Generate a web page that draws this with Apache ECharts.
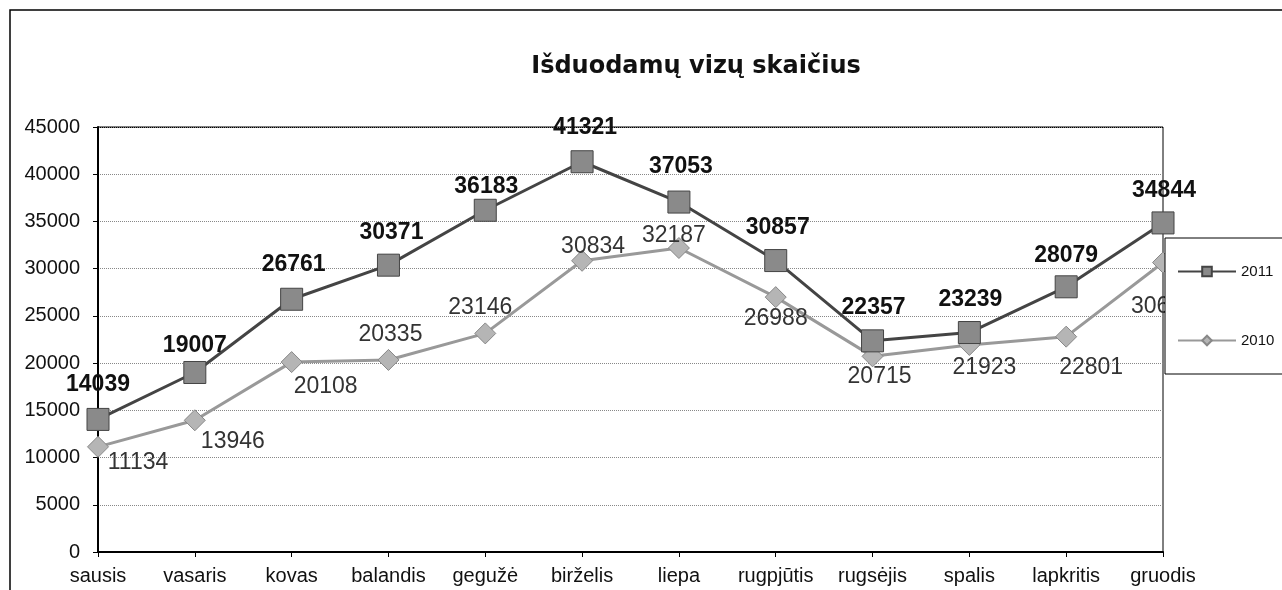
<!DOCTYPE html>
<html>
<head>
<meta charset="utf-8">
<script src="https://cdn.jsdelivr.net/npm/echarts@6/dist/echarts.min.js"></script>
<style>
  body {margin:0;padding:0;overflow:hidden;background:#fff;}
  #main {width:1282px;height:590px;}
</style>
</head>
<body>
<div id="main"></div>
<script>
// duomenys
const months = ['sausis', 'vasaris', 'kovas', 'balandis', 'gegužė', 'birželis',
                'liepa', 'rugpjūtis', 'rugsėjis', 'spalis', 'lapkritis', 'gruodis'];
const visas2011 = [14039, 19007, 26761, 30371, 36183, 41321, 37053, 30857, 22357, 23239, 28079, 34844];
const visas2010 = [11134, 13946, 20108, 20335, 23146, 30834, 32187, 26988, 20715, 21923, 22801, 30650];

// label placement (offset from marker centre, px)
const off2011 = [[0,-35],[0,-27],[2,-35],[3,-33],[1,-24],[3,-34],[2,-35],[2,-33],[1,-33],[1,-33],[0,-31],[1,-32]];
const off2010 = [[40,16],[38,21],[34,25],[2,-25],[-5,-26],[11,-14],[-5,-12],[0,22],[7,20],[15,23],[25,31],[0,44]];

const font = 'Liberation Sans, Arial, sans-serif';

function withLabels(values, offsets) {
  return values.map((v, i) => ({
    value: v,
    label: {offset: offsets[i]}
  }));
}

let myChart = echarts.init(document.getElementById('main'));
let gridColors = ['#888','#888','#888','#888','#888','#888','#888','#888','#888','#000'];

let option = {
  animation: false,
  backgroundColor: '#fff',
  textStyle: {fontFamily: font},
  title: {
    text: 'Išduodamų vizų skaičius',
    left: 691,
    top: 50,
    textAlign: 'center',
    textStyle: {fontSize: 24, fontWeight: 'bold', color: '#111', fontFamily: 'DejaVu Sans, sans-serif'}
  },
  graphic: [{
    type: 'rect',
    shape: {x: 10, y: 10, width: 1290, height: 600},
    style: {fill: 'none', stroke: '#000', lineWidth: 1.5}
  }],
  legend: {
    orient: 'vertical',
    left: 1165,
    top: 238,
    padding: [26, 9, 26, 12],
    itemGap: 54,
    itemWidth: 58,
    itemHeight: 12,
    backgroundColor: '#fff',
    borderColor: '#000',
    borderWidth: 1,
    z: 10,
    data: ['2011', '2010'],
    textStyle: {fontSize: 15, color: '#111', fontFamily: font}
  },
  grid: {
    left: 98, right: 119, top: 127, bottom: 38,
    show: true,
    borderColor: '#000',
    borderWidth: 1
  },
  xAxis: {
    type: 'category',
    data: months,
    boundaryGap: false,
    axisLine: {lineStyle: {color: '#000', width: 2}},
    axisTick: {show: true, length: 5, interval: 0, lineStyle: {color: '#000'}},
    axisLabel: {fontSize: 20, color: '#111', margin: 14, interval: 0, fontFamily: font},
    splitLine: {show: false}
  },
  yAxis: {
    type: 'value',
    min: 0,
    max: 45000,
    interval: 5000,
    axisLine: {show: true, lineStyle: {color: '#000', width: 2}},
    axisTick: {show: true, length: 5, lineStyle: {color: '#000'}},
    axisLabel: {fontSize: 20, color: '#111', margin: 18, fontFamily: font,
                formatter: v => String(v)},
    splitLine: {show: true, lineStyle: {color: gridColors, type: 'dotted', width: 1}}
  },
  series: [
    {
      name: '2011',
      type: 'line',
      data: withLabels(visas2011, off2011),
      symbol: 'rect',
      symbolSize: 22,
      lineStyle: {color: '#444', width: 3},
      itemStyle: {color: '#8a8a8a', borderColor: '#444', borderWidth: 1},
      label: {
        show: true,
        position: 'inside',
        fontSize: 23,
        fontWeight: 'bold',
        color: '#111',
        fontFamily: font
      },
      z: 3
    },
    {
      name: '2010',
      type: 'line',
      data: withLabels(visas2010, off2010),
      symbol: 'diamond',
      symbolSize: 21,
      lineStyle: {color: '#999', width: 3},
      itemStyle: {color: '#b5b5b5', borderColor: '#888', borderWidth: 1},
      label: {
        show: true,
        position: 'inside',
        fontSize: 23,
        color: '#333',
        fontFamily: font
      },
      z: 2
    }
  ]
};

myChart.setOption(option);
window.onresize = myChart.resize;
</script>
</body>
</html>
